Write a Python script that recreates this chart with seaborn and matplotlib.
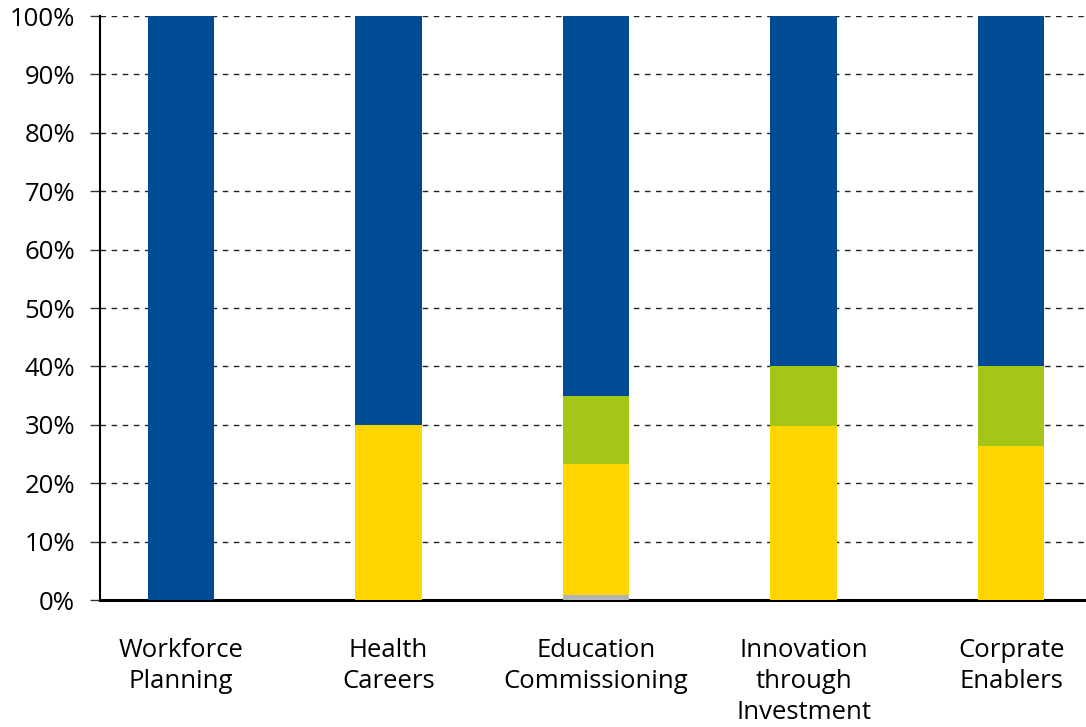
import matplotlib
matplotlib.use("Agg")
import matplotlib.pyplot as plt
import seaborn as sns
import numpy as np
import pandas as pd
from matplotlib.ticker import PercentFormatter

categories = ["Workforce\nPlanning", "Health\nCareers", "Education\nCommissioning",
              "Innovation\nthrough\nInvestment", "Corprate\nEnablers"]
grey = [0, 0, 0.9, 0, 0]
yellow = [0, 30, 22.4, 29.8, 26.4]
green = [0, 0, 11.7, 10.3, 13.6]
blue = [100, 70, 65.0, 59.9, 60.0]

colors = {"blue": "#004B93", "green": "#A3C619", "yellow": "#FDD500", "grey": "#B4B4B4"}

sns.set_style("white")
plt.rcParams["font.family"] = ["Open Sans", "DejaVu Sans"]

fig = plt.figure(figsize=(10.86, 7.27), dpi=100)
ax = fig.add_axes([100/1086, 127/727, 986/1086, 584/727])

g = np.array(grey); y = np.array(yellow); gr = np.array(green); b = np.array(blue)
layers = [
    ("blue", g + y + gr + b),
    ("green", g + y + gr),
    ("yellow", g + y),
    ("grey", g),
]
for name, vals in layers:
    df = pd.DataFrame({"cat": categories, "val": vals})
    sns.barplot(data=df, x="cat", y="val", color=colors[name], width=0.32,
                saturation=1, ax=ax, linewidth=0, zorder=3)

ax.set_xlim(-0.39, 4.36)
ax.set_ylim(0, 100)
ax.set_yticks(np.arange(0, 101, 10))
ax.yaxis.set_major_formatter(PercentFormatter(decimals=0))
ax.grid(axis="y", color="#222222", linestyle=(0, (4, 4)), linewidth=1, zorder=0)
ax.set_axisbelow(True)
ax.set_xlabel("")
ax.set_ylabel("")
for s in ["top", "right"]:
    ax.spines[s].set_visible(False)
ax.spines["left"].set_linewidth(1.5)
ax.spines["left"].set_color("black")
ax.spines["bottom"].set_linewidth(2.2)
ax.spines["bottom"].set_color("black")
ax.tick_params(axis="y", length=7, width=1, color="#333333", pad=11, labelsize=18.5,
               labelcolor="black", left=True)
ax.tick_params(axis="x", length=0, pad=27.5, labelsize=18.5, labelcolor="black")
for lbl in ax.get_xticklabels():
    lbl.set_linespacing(1.32)
    lbl.set_verticalalignment("top")

fig.savefig("out.png", dpi=100)
